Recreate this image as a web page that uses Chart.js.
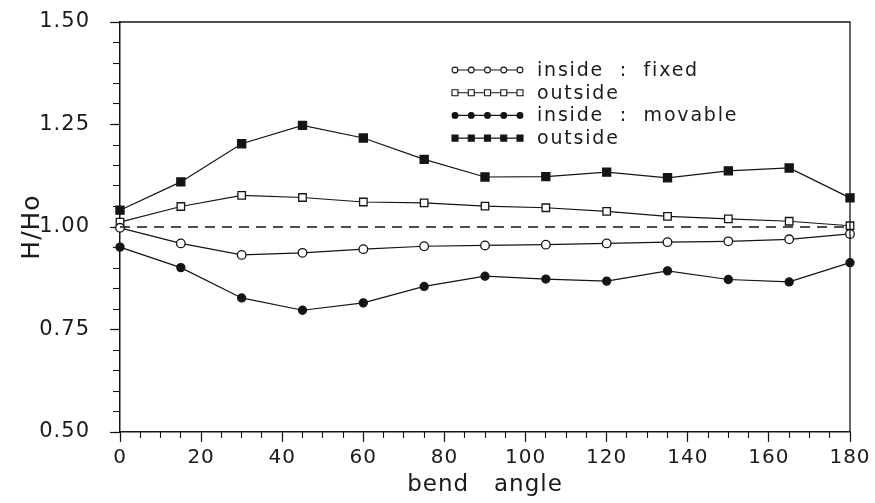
<!DOCTYPE html>
<html><head><meta charset="utf-8">
<script src="https://cdn.jsdelivr.net/npm/chart.js@4.4.1/dist/chart.umd.min.js"></script>
<style>html,body{margin:0;padding:0;background:#fff}#wrap{width:875px;height:503px;position:relative}</style>
</head><body><div id="wrap"><canvas id="c"></canvas></div>
<script>
// ---- data ----
const bendAngles     = [0, 15, 30, 45, 60, 75, 90, 105, 120, 135, 150, 165, 180];
const insideFixed    = [0.998, 0.960, 0.932, 0.937, 0.946, 0.953, 0.955, 0.957, 0.960, 0.963, 0.965, 0.970, 0.983];
const outsideFixed   = [1.012, 1.050, 1.077, 1.072, 1.061, 1.059, 1.051, 1.047, 1.038, 1.026, 1.020, 1.014, 1.003];
const insideMovable  = [0.951, 0.901, 0.827, 0.797, 0.815, 0.855, 0.880, 0.873, 0.868, 0.893, 0.872, 0.866, 0.913];
const outsideMovable = [1.041, 1.110, 1.203, 1.248, 1.217, 1.165, 1.122, 1.123, 1.134, 1.120, 1.137, 1.144, 1.071];
const referenceAngles = [0, 180];
const referenceLevel  = [1.00, 1.00];
const seriesLabels = ['inside  :  fixed', 'outside', 'inside  :  movable', 'outside'];
const yMajorTicks = [0.50, 0.75, 1.00, 1.25, 1.50];
const xMajorTicks = [0, 20, 40, 60, 80, 100, 120, 140, 160, 180];
const xTitle = 'bend   angle';
const yTitle = 'H/Ho';

const INK = '#141414';
const FONT = "'DejaVu Sans', 'Liberation Sans', sans-serif";
Chart.defaults.font.family = FONT;
Chart.defaults.font.size = 19;
Chart.defaults.color = '#1a1a1a';

const pts = (xs, ys) => xs.map((a, i) => ({x: a, y: ys[i]}));

const spacingPlugin = {
  id: 'spacing',
  beforeInit(chart) { chart.ctx.letterSpacing = '1px'; },
  beforeDraw(chart) { chart.ctx.letterSpacing = '1px'; }
};

const framePlugin = {
  id: 'frame',
  afterDraw(chart) {
    const {ctx, chartArea: a} = chart;
    ctx.save();
    ctx.strokeStyle = INK; ctx.lineWidth = 1.3;
    ctx.beginPath();
    ctx.moveTo(a.left, a.top); ctx.lineTo(a.right, a.top); ctx.lineTo(a.right, a.bottom);
    ctx.stroke();
    ctx.restore();
  }
};

const legendPlugin = {
  id: 'inlineLegend',
  afterDraw(chart) {
    const {ctx, chartArea: a} = chart;
    ctx.save();
    const x0 = a.left + 335, x1 = a.left + 400, tx = a.left + 417;
    let row = 0;
    chart.data.datasets.forEach(ds => {
      if (ds.isReference) return;
      const y = a.top + 48 + row * 22.7;
      ctx.strokeStyle = INK; ctx.lineWidth = 1.1;
      ctx.beginPath(); ctx.moveTo(x0, y); ctx.lineTo(x1, y); ctx.stroke();
      for (let k = 0; k < 5; k++) {
        const px = x0 + (x1 - x0) * k / 4;
        ctx.fillStyle = ds.backgroundColor; ctx.lineWidth = 1.1;
        ctx.beginPath();
        if (ds.pointStyle === 'rect') { ctx.rect(px - 3, y - 3, 6, 6); }
        else { ctx.arc(px, y, 2.9, 0, Math.PI * 2); }
        ctx.fill(); ctx.stroke();
      }
      ctx.letterSpacing = '1.8px';
      ctx.fillStyle = '#1a1a1a';
      ctx.font = "19px " + FONT;
      ctx.textBaseline = 'middle'; ctx.textAlign = 'left';
      ctx.fillText(ds.label, tx, y + 1);
      row++;
    });
    ctx.restore();
  }
};

const lineDs = (label, xs, ys, style, radius, fill) => ({
  label, data: pts(xs, ys), pointStyle: style, pointRadius: radius,
  borderColor: INK, backgroundColor: fill, pointBackgroundColor: fill,
  pointBorderColor: INK, borderWidth: 1.2, pointBorderWidth: 1.3,
  tension: 0, clip: false, xAxisID: 'x', yAxisID: 'y'
});

const noVPad = s => { s.paddingTop = 0; s.paddingBottom = 0; };

new Chart(document.getElementById('c'), {
  type: 'line',
  data: {
    datasets: [
      Object.assign(lineDs('H/Ho = 1', referenceAngles, referenceLevel, 'circle', 0, INK),
        {borderDash: [10, 7], borderWidth: 1.5, isReference: true}),
      lineDs(seriesLabels[0], bendAngles, insideFixed, 'circle', 4.3, '#fff'),
      lineDs(seriesLabels[1], bendAngles, outsideFixed, 'rect', 5.3, '#fff'),
      lineDs(seriesLabels[2], bendAngles, insideMovable, 'circle', 4.0, INK),
      lineDs(seriesLabels[3], bendAngles, outsideMovable, 'rect', 5.7, INK)
    ]
  },
  options: {
    responsive: true, maintainAspectRatio: false, animation: false, devicePixelRatio: 1,
    layout: {padding: {top: 22, right: 25, left: 0, bottom: 0}},
    plugins: {legend: {display: false}, tooltip: {enabled: false}},
    scales: {
      xm: {
        type: 'linear', position: 'bottom', weight: 0, min: 0, max: 180,
        ticks: {display: false, stepSize: 5},
        grid: {drawOnChartArea: false, drawTicks: true, tickLength: 6, tickColor: INK, tickWidth: 1.1},
        border: {display: false},
        afterFit(s) { s.height = 0; }
      },
      x: {
        type: 'linear', position: 'bottom', weight: 1, min: 0, max: 180,
        afterBuildTicks(s) { s.ticks = xMajorTicks.map(v => ({value: v})); },
        ticks: {padding: 4, maxRotation: 0, autoSkip: false, callback: v => String(v), font: {size: 20}},
        grid: {drawOnChartArea: false, drawTicks: true, tickLength: 10, tickColor: INK, tickWidth: 1.2},
        border: {display: true, color: INK, width: 1.5},
        title: {display: true, text: xTitle, font: {size: 23}, padding: {top: 0, bottom: 4}},
        afterFit(s) { s.height = 71; }
      },
      ym: {
        type: 'linear', position: 'left', weight: 0, min: 0.5, max: 1.5,
        ticks: {display: false, stepSize: 0.05},
        grid: {drawOnChartArea: false, drawTicks: true, tickLength: 7, tickColor: INK, tickWidth: 1.1},
        border: {display: false},
        afterFit(s) { s.width = 0; noVPad(s); }
      },
      y: {
        type: 'linear', position: 'left', weight: 1, min: 0.5, max: 1.5,
        afterBuildTicks(s) { s.ticks = yMajorTicks.map(v => ({value: v})); },
        ticks: {padding: 20, callback: v => Number(v).toFixed(2), font: {size: 21}},
        grid: {drawOnChartArea: false, drawTicks: true, tickLength: 10, tickColor: INK, tickWidth: 1.2},
        border: {display: true, color: INK, width: 1.5},
        title: {display: true, text: yTitle, font: {size: 25}, padding: {top: 17, bottom: 0}},
        afterFit(s) { s.width = 120; noVPad(s); }
      }
    }
  },
  plugins: [spacingPlugin, framePlugin, legendPlugin]
});
</script>
</body></html>
